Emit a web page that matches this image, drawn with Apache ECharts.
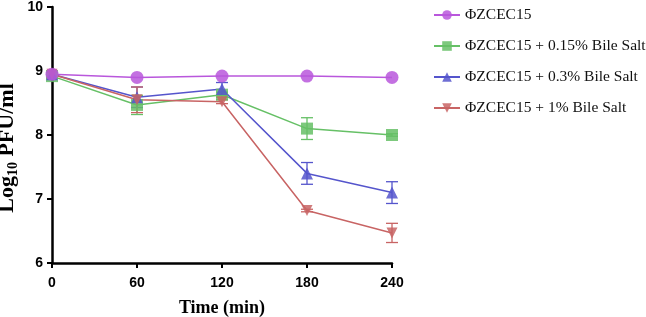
<!DOCTYPE html>
<html lang="en">
<head>
    <meta charset="UTF-8">
    <title>Bile salt stability</title>
    <script src="https://cdn.jsdelivr.net/npm/echarts@6/dist/echarts.min.js"></script>
</head>
<body style="margin: 0">
    <div id="container" style="width: 646px; height: 317px"></div>
    <script type="text/javascript">
        var times = [0, 60, 120, 180, 240];
        var names = ['ΦZCEC15', 'ΦZCEC15 + 0.15% Bile Salt', 'ΦZCEC15 + 0.3% Bile Salt', 'ΦZCEC15 + 1% Bile Salt'];
        var control = [8.95, 8.9, 8.92, 8.92, 8.9];
        var bile015 = [8.92, 8.47, 8.63, 8.1, 8.0];
        var bile03 = [8.95, 8.59, 8.72, 7.4, 7.1];
        var bile1 = [8.95, 8.55, 8.52, 6.82, 6.47];
        // standard deviations
        var err015 = [0.03, 0.15, 0.04, 0.17, 0.02];
        var err03 = [0.03, 0.16, 0.1, 0.17, 0.17];
        var err1 = [0.05, 0.2, 0.03, 0.02, 0.15];
        var colors = ['#b957dc', '#66c066', '#5555cc', '#c86464'];
        var symbols = ['circle', 'rect', 'triangle', 'path://M0,0 L10,0 L5,9 Z'];

        var dom = document.getElementById('container');
        var myChart = echarts.init(dom, null, { renderer: 'canvas' });

        function pairs(vals) {
            return vals.map(function (v, i) { return [times[i], v]; });
        }
        function errData(vals, errs) {
            return vals.map(function (v, i) { return [times[i], v - errs[i], v + errs[i]]; });
        }
        function errSeries(vals, errs, color) {
            return {
                type: 'custom',
                data: errData(vals, errs),
                z: 1,
                renderItem: function (params, api) {
                    var lo = api.coord([api.value(0), api.value(1)]);
                    var hi = api.coord([api.value(0), api.value(2)]);
                    var w = 6;
                    var st = { stroke: color, lineWidth: 1.3 };
                    return {
                        type: 'group',
                        children: [
                            { type: 'line', shape: { x1: lo[0], y1: lo[1], x2: hi[0], y2: hi[1] }, style: st },
                            { type: 'line', shape: { x1: lo[0] - w, y1: lo[1], x2: lo[0] + w, y2: lo[1] }, style: st },
                            { type: 'line', shape: { x1: hi[0] - w, y1: hi[1], x2: hi[0] + w, y2: hi[1] }, style: st }
                        ]
                    };
                }
            };
        }
        function lineSeries(idx, vals, size) {
            return {
                name: names[idx],
                type: 'line',
                data: pairs(vals),
                symbol: symbols[idx],
                symbolSize: size,
                z: 3,
                lineStyle: { color: colors[idx], width: 1.5 },
                itemStyle: { color: colors[idx], opacity: 0.85 }
            };
        }

        var option = {
            animation: false,
            grid: { left: 52, right: 254, top: 7, bottom: 54, outerBoundsMode: 'none' },
            legend: {
                data: names,
                orient: 'vertical',
                left: 428,
                top: 2,
                itemGap: 15,
                itemWidth: 26,
                itemHeight: 12,
                textStyle: { fontFamily: 'Liberation Serif', fontSize: 15.5, color: '#111' }
            },
            xAxis: {
                type: 'value',
                min: 0, max: 240, interval: 60,
                name: 'Time (min)',
                nameLocation: 'middle',
                nameGap: 36,
                nameTextStyle: { fontFamily: 'Liberation Serif', fontWeight: 'bold', fontSize: 18, color: '#000' },
                axisLine: { lineStyle: { color: '#000', width: 2.5 } },
                axisTick: { show: true, length: 5, lineStyle: { color: '#000', width: 2 } },
                axisLabel: { fontFamily: 'Liberation Sans', fontWeight: 'bold', fontSize: 14, color: '#000', margin: 13 },
                splitLine: { show: false }
            },
            yAxis: {
                type: 'value',
                min: 6, max: 10, interval: 1,
                name: '{b|Log}{s|10}{b| PFU/ml}{g|}',
                nameLocation: 'middle',
                nameGap: 34,
                nameMoveOverlap: false,
                nameTextStyle: {
                    rich: {
                        b: { fontFamily: 'Liberation Serif', fontWeight: 'bold', fontSize: 22, color: '#000', lineHeight: 22 },
                        s: { fontFamily: 'Liberation Serif', fontWeight: 'bold', fontSize: 14, color: '#000', lineHeight: 22, verticalAlign: 'top', padding: [10, 0, 0, 0] },
                        g: { width: 26, lineHeight: 22 }
                    }
                },
                axisLine: { show: true, lineStyle: { color: '#000', width: 2.5 } },
                axisTick: { show: true, length: 5, lineStyle: { color: '#000', width: 2 } },
                axisLabel: { fontFamily: 'Liberation Sans', fontWeight: 'bold', fontSize: 14, color: '#000', margin: 9 },
                splitLine: { show: false }
            },
            series: [
                errSeries(bile015, err015, colors[1]),
                errSeries(bile03, err03, colors[2]),
                errSeries(bile1, err1, colors[3]),
                lineSeries(1, bile015, 12),
                lineSeries(2, bile03, 12),
                lineSeries(3, bile1, 11),
                lineSeries(0, control, 13)
            ]
        };

        myChart.setOption(option);
        window.addEventListener('resize', myChart.resize);
    </script>
</body>
</html>
